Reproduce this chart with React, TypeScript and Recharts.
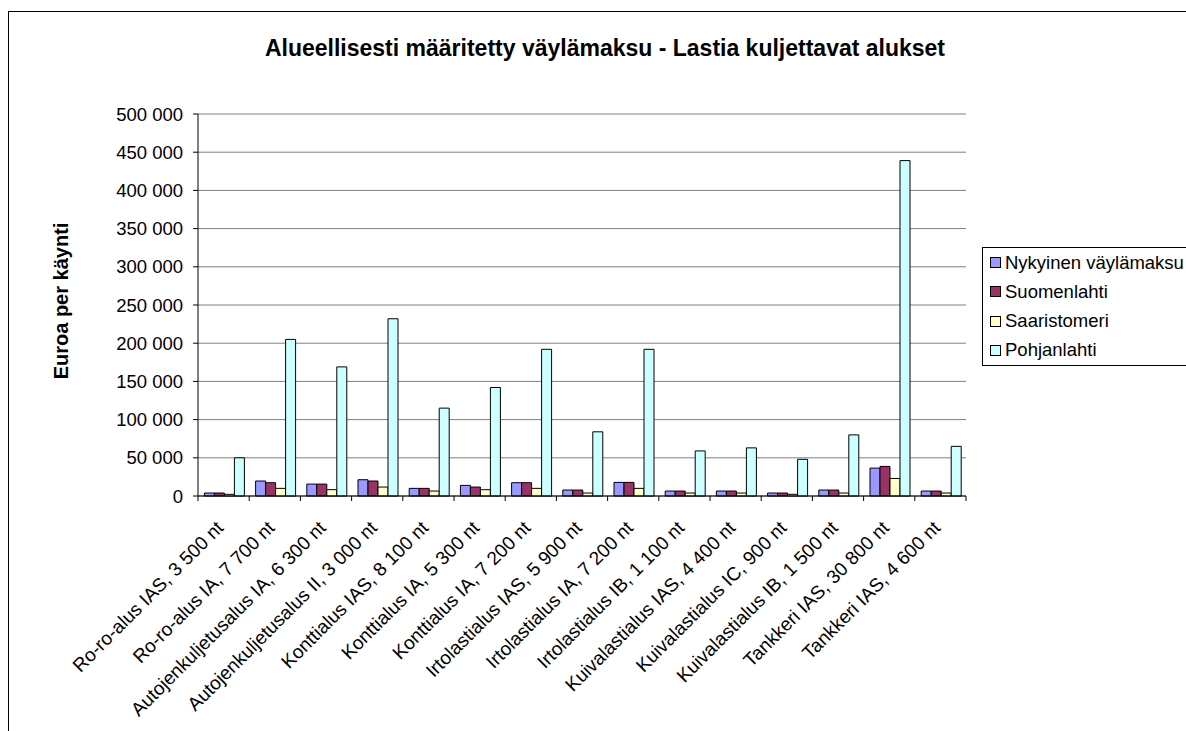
import { BarChart, Bar, XAxis, YAxis, CartesianGrid } from 'recharts';

const categories = [
  'Ro-ro-alus IAS, 3 500 nt',
  'Ro-ro-alus IA, 7 700 nt',
  'Autojenkuljetusalus IA, 6 300 nt',
  'Autojenkuljetusalus II, 3 000 nt',
  'Konttialus IAS, 8 100 nt',
  'Konttialus IA, 5 300 nt',
  'Konttialus IA, 7 200 nt',
  'Irtolastialus IAS, 5 900 nt',
  'Irtolastialus IA, 7 200 nt',
  'Irtolastialus IB, 1 100 nt',
  'Kuivalastialus IAS, 4 400 nt',
  'Kuivalastialus IC, 900 nt',
  'Kuivalastialus IB, 1 500 nt',
  'Tankkeri IAS, 30 800 nt',
  'Tankkeri IAS, 4 600 nt',
];

const nykyinen = [3900, 19600, 15600, 21300, 10000, 13900, 17400, 7800, 17800, 6500, 6500, 3900, 7800, 36500, 6500];
const suomenlahti = [3900, 17400, 15600, 19600, 10000, 11700, 17400, 7800, 17800, 6500, 6500, 3900, 7800, 38700, 6500];
const saaristomeri = [2200, 10000, 8300, 11700, 6500, 8300, 10000, 3900, 10000, 3900, 3900, 2200, 3900, 23000, 3900];
const pohjanlahti = [50000, 205000, 169000, 232000, 115000, 142000, 192000, 84000, 192000, 59000, 63000, 48000, 80000, 439000, 65000];

const yTicks = [0, 50000, 100000, 150000, 200000, 250000, 300000, 350000, 400000, 450000, 500000];

const series = [
  { key: 'nykyinen', name: 'Nykyinen väylämaksu', color: '#9999FF' },
  { key: 'suomenlahti', name: 'Suomenlahti', color: '#993366' },
  { key: 'saaristomeri', name: 'Saaristomeri', color: '#FFFFCC' },
  { key: 'pohjanlahti', name: 'Pohjanlahti', color: '#CCFFFF' },
];

const data = categories.map((name, i) => ({
  name,
  nykyinen: nykyinen[i],
  suomenlahti: suomenlahti[i],
  saaristomeri: saaristomeri[i],
  pohjanlahti: pohjanlahti[i],
}));

const W = 1177;
const H = 719;
const margin = { top: 102, right: 220, left: 109, bottom: 35 };
const Y_W = 80;
const BAND = (W - margin.left - margin.right - Y_W) / categories.length;
const FONT = '"Liberation Sans", Arial, sans-serif';

const fmt = (v: number) => String(v).replace(/\B(?=(\d{3})+(?!\d))/g, ' ');

function CategoryTick(props: any) {
  const { x, y, payload, index } = props;
  const left = x - BAND / 2;
  const tx = x + 1;
  const ty = y + 33;
  return (
    <g>
      <line x1={left} y1={y} x2={left} y2={y + 5} stroke="#000" />
      {index === categories.length - 1 && (
        <line x1={x + BAND / 2} y1={y} x2={x + BAND / 2} y2={y + 5} stroke="#000" />
      )}
      <text x={tx} y={ty} textAnchor="end" fontSize={19} fill="#000" transform={`rotate(-45 ${tx} ${ty})`}>
        {payload.value}
      </text>
    </g>
  );
}

export default function App() {
  return (
    <div
      style={{
        position: 'absolute',
        left: 8,
        top: 11,
        width: 1178,
        height: 720,
        boxSizing: 'border-box',
        borderLeft: '1px solid #000',
        borderTop: '1px solid #000',
        overflow: 'hidden',
        background: '#fff',
        fontFamily: FONT,
      }}
    >
      <div
        style={{
          position: 'absolute',
          left: 0,
          top: 25,
          width: 1192,
          textAlign: 'center',
          fontSize: 23,
          lineHeight: '23px',
          fontWeight: 'bold',
          whiteSpace: 'nowrap',
        }}
      >
        Alueellisesti määritetty väylämaksu - Lastia kuljettavat alukset
      </div>
      <div
        style={{
          position: 'absolute',
          left: 52 - 150,
          top: 289 - 10,
          width: 300,
          height: 20,
          lineHeight: '20px',
          textAlign: 'center',
          fontSize: 20,
          fontWeight: 'bold',
          transform: 'rotate(-90deg)',
          whiteSpace: 'nowrap',
        }}
      >
        Euroa per käynti
      </div>
      <BarChart width={W} height={H} data={data} margin={margin} barCategoryGap="12.5%" barGap={0}>
        <CartesianGrid vertical={false} stroke="#808080" />
        <XAxis
          dataKey="name"
          interval={0}
          tickLine={false}
          tickSize={0}
          tickMargin={0}
          height={200}
          axisLine={{ stroke: '#000' }}
          tick={<CategoryTick />}
        />
        <YAxis
          width={Y_W}
          domain={[0, 500000]}
          ticks={yTicks}
          interval={0}
          tickFormatter={fmt}
          tickSize={5}
          tickMargin={10}
          tick={{ fontSize: 18.5, fill: '#000' }}
          tickLine={{ stroke: '#000' }}
          axisLine={{ stroke: '#000' }}
        />
        <YAxis yAxisId="r" orientation="right" width={0} tick={false} tickLine={false} axisLine={{ stroke: '#888' }} />
        {series.map((s) => (
          <Bar key={s.key} dataKey={s.key} name={s.name} fill={s.color} stroke="#000" strokeWidth={1} isAnimationActive={false} />
        ))}
      </BarChart>
      <div
        style={{
          position: 'absolute',
          left: 973,
          top: 235,
          width: 300,
          height: 119,
          boxSizing: 'border-box',
          border: '1px solid #000',
          background: '#fff',
          fontSize: 18.5,
        }}
      >
        {series.map((s) => (
          <div key={s.key} style={{ display: 'flex', alignItems: 'center', height: 29.25, paddingLeft: 7, whiteSpace: 'nowrap' }}>
            <span style={{ width: 9, height: 9, border: '1px solid #000', background: s.color, marginRight: 4, flex: 'none' }} />
            <span>{s.name}</span>
          </div>
        ))}
      </div>
    </div>
  );
}
